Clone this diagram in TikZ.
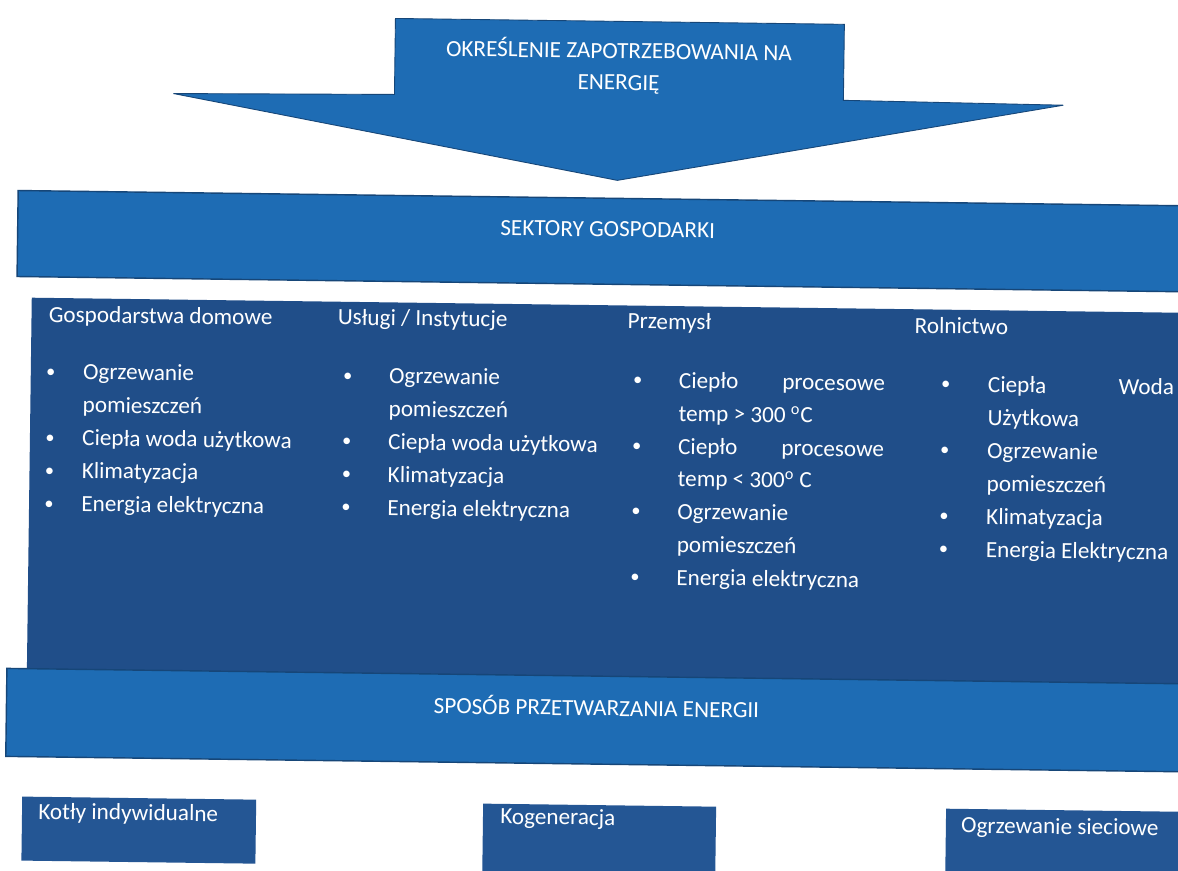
\documentclass[tikz,border=0pt]{standalone}
\usepackage{fontspec}
\setmainfont{Carlito}
\definecolor{brightblue}{RGB}{30,108,180}
\definecolor{darkpanel}{RGB}{32,78,137}
\definecolor{boxblue}{RGB}{36,86,148}
\definecolor{edgeblue}{RGB}{22,70,120}
\begin{document}
\begin{tikzpicture}[x=0.02cm,y=-0.02cm,
  bar/.style={fill=brightblue,draw=edgeblue,line width=0.8pt},
  panel/.style={fill=darkpanel},
  sbox/.style={fill=boxblue},
  wtext/.style={text=white,inner sep=0pt,font=\fontsize{13.2}{15}\selectfont},
  head/.style={wtext,anchor=west},
  item/.style={wtext,anchor=west},
  bul/.style={text=white,inner sep=0pt,font=\fontsize{10.5}{12}\selectfont},
  captext/.style={text=white,inner sep=0pt,align=center,font=\fontsize{13.2}{18}\selectfont}]
\useasboundingbox (0,0) rectangle (1178,870);
\fill[white] (0,0) rectangle (1178,870);
\clip (0,0) rectangle (1178,870);
\begin{scope}[rotate around={-0.75:(589,435)},transform shape]
% top arrow
\draw[bar,line width=0.5pt] (390,21) -- (839,21) -- (839,97) -- (1059,99) -- (614,180) -- (169,99) -- (390,97) -- cycle;
\node[captext] (arrowtext) at (614,66) {OKREŚLENIE ZAPOTRZEBOWANIA NA\\ENERGIĘ};
% sectors bar
\draw[bar] (15,198) rectangle (1220,284);
\node[captext] (sektory) at (605,229) {SEKTORY GOSPODARKI};
% dark panel
\fill[panel] (30,305) rectangle (1220,700);
% column 1
\node[head] (h1) at (47,323) {Gospodarstwa domowe};
\foreach \y/\t/\b in {380/Ogrzewanie/1,413/pomieszczeń/0,446/Ciepła woda użytkowa/1,479/Klimatyzacja/1,512/Energia elektryczna/1}{
  \node[item] at (82,\y) {\t};
  \ifnum\b=1 \node[bul] at (50,\y) {•};\fi
}
% column 2
\node[head] (h2) at (336,322) {Usługi / Instytucje};
\foreach \y/\t/\b in {380/Ogrzewanie/1,413/pomieszczeń/0,446/Ciepła woda użytkowa/1,479/Klimatyzacja/1,512/Energia elektryczna/1}{
  \node[item] at (388,\y) {\t};
  \ifnum\b=1 \node[bul] at (347,\y) {•};\fi
}
% column 3
\node[head] (h3) at (626,322) {Przemysł};
\node[item] (c3a) at (678,381) {\makebox[4.12cm][s]{Ciepło\hfill procesowe}};
\node[item] (c3b) at (678,414) {temp > 300 \textsuperscript{o}C};
\node[item] (c3c) at (678,447) {\makebox[4.12cm][s]{Ciepło\hfill procesowe}};
\node[item] (c3d) at (678,479) {temp < 300\textsuperscript{o} C};
\node[item] (c3e) at (678,512) {Ogrzewanie};
\node[item] (c3f) at (678,545) {pomieszczeń};
\node[item] (c3g) at (678,578) {Energia elektryczna};
\foreach \y in {381,447,512,578}{\node[bul] at (637,\y) {•};}
% column 4
\node[head] (h4) at (913,321) {Rolnictwo};
\node[item] (c4a) at (987,381) {\makebox[3.72cm][s]{Ciepła\hfill Woda}};
\node[item] (c4b) at (987,414) {Użytkowa};
\node[item] (c4c) at (987,447) {Ogrzewanie};
\node[item] (c4d) at (987,480) {pomieszczeń};
\node[item] (c4e) at (987,513) {Klimatyzacja};
\node[item] (c4f) at (987,546) {Energia Elektryczna};
\foreach \y in {381,447,513,546}{\node[bul] at (945,\y) {•};}
% conversion bar
\draw[bar] (10,676) rectangle (1220,764);
\node[captext] (sposob) at (600,706) {SPOSÓB PRZETWARZANIA ENERGII};
% bottom boxes
\fill[sbox] (27,804) rectangle (261,868);
\node[item] (kotly) at (43,820) {Kotły indywidualne};
\fill[sbox] (488,805) rectangle (721,880);
\node[item] (kogen) at (505,819) {Kogeneracja};
\fill[sbox] (951,804) rectangle (1220,890);
\node[item] (siec) at (966,822) {Ogrzewanie sieciowe};
\end{scope}
\end{tikzpicture}
\end{document}
